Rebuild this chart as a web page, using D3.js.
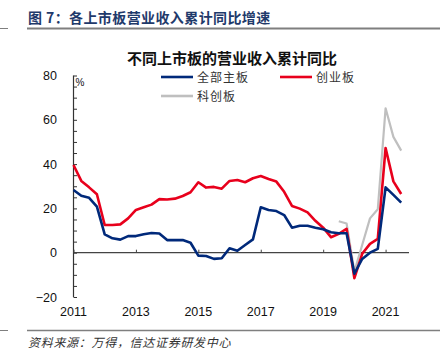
<!DOCTYPE html>
<html>
<head>
<meta charset="utf-8">
<script src="https://cdn.jsdelivr.net/npm/d3@7"></script>
<style>
  html, body { margin: 0; padding: 0; background: #fff; }
  svg { display: block; }
</style>
</head>
<body>
<div id="chart"></div>
<script>
// quarterly, cumulative YoY revenue growth (%), 2011Q1 .. 2021Q3
const years = d3.range(2011, 2022);
const quarters = [];
years.forEach(y => [1, 2, 3, 4].forEach(q => quarters.push({ year: y, q: q })));
quarters.length = 43; // ends at 2021Q3

const mainBoard = [28.3, 25.7, 24.8, 20.8, 8.3, 6.5, 5.9, 7.5, 7.5, 8.3, 8.9, 8.7,
  5.7, 5.7, 5.7, 4.5, -1.3, -1.5, -2.8, -2.5, 2.0, 0.9, 3.5, 6.0,
  20.5, 19.3, 18.8, 17.0, 11.3, 12.2, 12.2, 11.3, 10.6, 9.2, 8.8, 8.8,
  -9.5, -2.8, 0.0, 1.7, 29.5, 26.1, 22.6];
const chinext = [39.6, 32.4, 29.5, 26.4, 12.5, 12.5, 12.8, 15.5, 19.3, 20.5, 21.7, 24.2,
  24.0, 24.4, 25.6, 27.3, 31.8, 29.4, 29.7, 28.9, 32.4, 32.8, 31.8, 33.6,
  34.6, 33.3, 32.1, 27.5, 21.1, 19.9, 18.2, 14.4, 11.3, 7.0, 8.5, 10.8,
  -11.5, -0.5, 4.0, 6.2, 47.3, 32.2, 26.5];
const star = [null, null, null, null, null, null, null, null, null, null, null, null,
  null, null, null, null, null, null, null, null, null, null, null, null,
  null, null, null, null, null, null, null, null, null, null, 14.2, 13.2,
  -8.5, 3.5, 15.5, 19.6, 65.2, 52.3, 46.1];

const yTicks = [80, 60, 40, 20, 0, -20];
const xTicks = [2011, 2013, 2015, 2017, 2019, 2021];

const series = [
  { name: '全部主板', values: mainBoard, color: '#00297a', width: 2.6 },
  { name: '创业板', values: chinext, color: '#e8001c', width: 2.6 },
  { name: '科创板', values: star, color: '#bfbfbf', width: 2.2 }
];

const width = 440;
const height = 364;
const cjk = '"Noto Sans CJK SC", sans-serif';
const latin = '"Liberation Sans", Arial, sans-serif';

const svg = d3.select('#chart')
  .append('svg')
  .attr('width', width)
  .attr('height', height);

// page header
svg.append('text')
  .attr('x', 28)
  .attr('y', 23)
  .style('font-family', cjk)
  .style('font-size', '14px')
  .style('font-weight', 'bold')
  .style('letter-spacing', '0.4px')
  .style('fill', '#1f3a6b')
  .text('图 7：各上市板营业收入累计同比增速');

svg.append('line').attr('x1', 27).attr('x2', width).attr('y1', 28.5).attr('y2', 28.5)
  .attr('stroke', '#7f7f7f').attr('stroke-width', 2);
svg.append('line').attr('x1', 0).attr('x2', 8).attr('y1', 28.5).attr('y2', 28.5)
  .attr('stroke', '#7f7f7f').attr('stroke-width', 1);

// footer
svg.append('line').attr('x1', 27).attr('x2', width).attr('y1', 330.5).attr('y2', 330.5)
  .attr('stroke', '#7f7f7f').attr('stroke-width', 1.5);
svg.append('line').attr('x1', 0).attr('x2', 8).attr('y1', 330.5).attr('y2', 330.5)
  .attr('stroke', '#7f7f7f').attr('stroke-width', 1);

svg.append('text')
  .attr('x', 28)
  .attr('y', 347)
  .style('font-family', cjk)
  .style('font-size', '12px')
  .style('font-style', 'italic')
  .style('letter-spacing', '0.7px')
  .style('fill', '#333')
  .text('资料来源：万得，信达证券研发中心');

// chart title
svg.append('text')
  .attr('x', 232)
  .attr('y', 63.5)
  .attr('text-anchor', 'middle')
  .style('font-family', cjk)
  .style('font-size', '15px')
  .style('font-weight', 'bold')
  .style('fill', '#111')
  .text('不同上市板的营业收入累计同比');

// scales
const xScale = d3.scaleLinear()
  .domain([2011, 2021.75])
  .range([73.5, 409]);

const yScale = d3.scaleLinear()
  .domain([-20, 80])
  .range([297, 75.5]);

const xOf = i => xScale(quarters[i].year + (quarters[i].q - 1) / 4);

// y axis
const yAxis = svg.append('g')
  .attr('transform', 'translate(73.5,0)')
  .call(d3.axisRight(yScale)
    .ticks(25)
    .tickSize(3.5)
    .tickFormat(''));
yAxis.select('.domain').attr('stroke', '#333').attr('stroke-width', 1.2).attr('d', `M0,${yScale(80)}V${yScale(-20)}`);
yAxis.selectAll('.tick line').attr('stroke', '#333');

svg.append('g')
  .selectAll('text')
  .data(yTicks)
  .enter()
  .append('text')
  .attr('x', 57)
  .attr('y', d => yScale(d) + 4.5)
  .attr('text-anchor', 'end')
  .style('font-family', latin)
  .style('font-size', '12.5px')
  .style('fill', '#111')
  .text(d => d < 0 ? '\u2212' + Math.abs(d) : d);

svg.append('text')
  .attr('x', 75.5)
  .attr('y', 86)
  .style('font-family', latin)
  .style('font-size', '10px')
  .style('fill', '#111')
  .text('%');

// x axis on the zero line
const xAxis = svg.append('g')
  .attr('transform', `translate(0,${yScale(0)})`)
  .call(d3.axisTop(xScale)
    .tickValues(xTicks)
    .tickSize(3)
    .tickFormat(''));
xAxis.select('.domain').attr('stroke', '#444').attr('stroke-width', 1.2).attr('d', `M${xScale(2011)},0H409`);
xAxis.selectAll('.tick line').attr('stroke', '#444');

svg.append('g')
  .selectAll('text')
  .data(xTicks)
  .enter()
  .append('text')
  .attr('x', d => xScale(d))
  .attr('y', 316)
  .attr('text-anchor', 'middle')
  .style('font-family', latin)
  .style('font-size', '12.5px')
  .style('fill', '#111')
  .text(d => d);

// lines
const line = d3.line()
  .defined(d => d.v !== null)
  .x(d => xOf(d.i))
  .y(d => yScale(d.v));

series.slice().reverse().forEach(s => {
  svg.append('path')
    .datum(s.values.map((v, i) => ({ i: i, v: v })))
    .attr('fill', 'none')
    .attr('stroke', s.color)
    .attr('stroke-width', s.width)
    .attr('stroke-linejoin', 'round')
    .attr('d', line);
});

// legend
const legendPos = [[161, 77], [280, 77], [161, 96]];
series.forEach((s, k) => {
  const [lx, ly] = legendPos[k];
  svg.append('line')
    .attr('x1', lx).attr('x2', lx + 32)
    .attr('y1', ly).attr('y2', ly)
    .attr('stroke', s.color)
    .attr('stroke-width', 2.6);
  svg.append('text')
    .attr('x', lx + 36)
    .attr('y', ly + 4.5)
    .style('font-family', cjk)
    .style('font-size', '12px')
    .style('letter-spacing', '1px')
    .style('fill', '#333')
    .text(s.name);
});
</script>
</body>
</html>
